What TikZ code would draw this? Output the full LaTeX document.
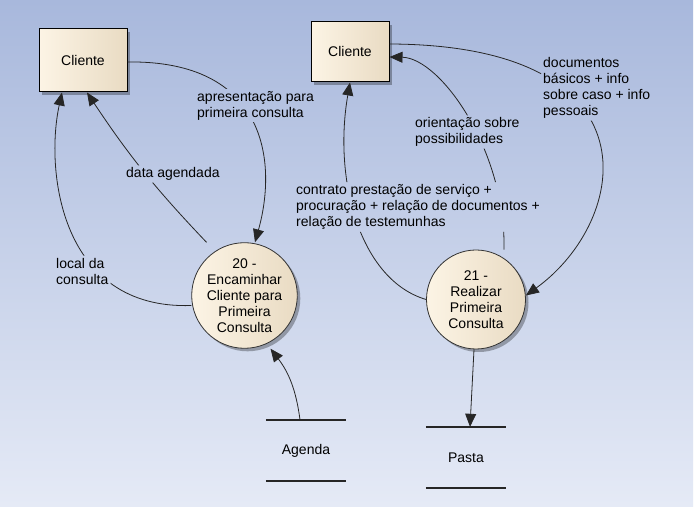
\documentclass[tikz,border=0pt]{standalone}
\usepackage{fontspec}
\setmainfont{Liberation Sans}
\usetikzlibrary{arrows.meta, shadows}
\definecolor{bgtop}{RGB}{168,184,220}
\definecolor{bgbot}{RGB}{229,234,246}
\definecolor{boxlight}{RGB}{252,244,229}
\definecolor{boxdark}{RGB}{233,219,195}
\tikzset{
  >={Triangle[length=13pt,width=11pt]}, % big filled arrow heads
  every node/.style={font=\fontsize{14}{16}\selectfont},
  flow/.style={->, draw=black!85, line width=0.8pt}, % a data flow
  shade box/.style={left color=boxlight, right color=boxdark,
    drop shadow={shadow xshift=3pt, shadow yshift=-3pt, fill=black, opacity=0.3}},
  entity/.style={draw, line width=1pt, shade box}, % external entity
  process/.style={circle, draw=black!80, line width=0.8pt, inner sep=0pt, align=center, shade box},
  store/.style={minimum width=80pt, minimum height=61pt, inner sep=0pt}, % data store
  storeline/.style={line width=1.6pt, draw=black!85},
  lbl/.style={inner sep=2pt, align=left, anchor=west}, % flow label
}

\begin{document}
\begin{tikzpicture}[x=1pt, y=1pt]
  \useasboundingbox (0,0) rectangle (696,-510);
  \fill[white] (0,0) rectangle (696,-510);
  \shade[top color=bgtop, bottom color=bgbot] (0,0) rectangle (693,-506);

  \node[entity, minimum width=88pt, minimum height=63pt] (cli1) at (83,-60.5) {Cliente};
  \node[entity, minimum width=78pt, minimum height=60pt] (cli2) at (350,-52) {Cliente};
  \node[process, minimum size=102pt] (p20) at (244.5,-295.5) {20 -\\Encaminhar\\Cliente para\\Primeira\\Consulta};
  \node[process, minimum size=99pt] (p21) at (476,-299.5) {21 -\\Realizar\\Primeira\\Consulta};
  \node[store] (agenda) at (306,-450.5) {Agenda};
  \node[store] (pasta) at (466,-457.5) {Pasta};
  \draw[storeline] (agenda.north west) -- (agenda.north east) (agenda.south west) -- (agenda.south east);
  \draw[storeline] (pasta.north west) -- (pasta.north east) (pasta.south west) -- (pasta.south east);

  % labels first, the flows are cut out under them
  \node[lbl] (lapres) at (195,-105.5) {apresentação para\\primeira consulta};
  \node[lbl] (ldata) at (124,-174) {data agendada};
  \node[lbl] (llocal) at (54,-271) {local da\\consulta};
  \node[lbl] (lcontr) at (294,-207) {contrato prestação de serviço +\\procuração + relação de documentos +\\relação de testemunhas};
  \node[lbl] (lorient) at (413,-132) {orientação sobre\\possibilidades};
  \node[lbl] (ldocs) at (541,-88) {documentos\\básicos + info\\sobre caso + info\\pessoais};

  \begin{scope}[even odd rule]
    \clip (0,0) rectangle (696,-510)
      (lapres.south west) rectangle (lapres.north east)
      (ldata.south west) rectangle (ldata.north east)
      (llocal.south west) rectangle (llocal.north east)
      (lcontr.south west) rectangle (lcontr.north east)
      (lorient.south west) rectangle (lorient.north east)
      (ldocs.south west) rectangle (ldocs.north east);

    % left part
    \draw[flow] ([yshift=-1.5pt]cli1.east) .. controls (265,-60) and (278,-160) .. ([xshift=10.5pt]p20.north);
    \draw[flow] ([xshift=-38pt]p20.north) to[bend left=5] ([xshift=4pt]cli1.south);
    \draw[flow] ([yshift=-10pt]p20.west) .. controls (60,-310) and (45,-170) .. ([xshift=-21pt]cli1.south);
    \draw[flow] ([xshift=-6pt]agenda.north) to[bend right=15] ([xshift=26pt]p20.south);

    % right part
    \draw[flow] (p21.west) .. controls (360,-280) and (333,-180) .. (cli2.south);
    \draw[flow] ([xshift=28pt]p21.north) .. controls (506,-150) and (440,-58) .. ([yshift=-5pt]cli2.east);
    \draw[flow] ([yshift=8pt]cli2.east) .. controls (660,-45) and (630,-220) .. ([yshift=4pt]p21.east);
    \draw[flow] ([xshift=-2pt]p21.south) -- ([xshift=4pt]pasta.north);
  \end{scope}
\end{tikzpicture}
\end{document}
